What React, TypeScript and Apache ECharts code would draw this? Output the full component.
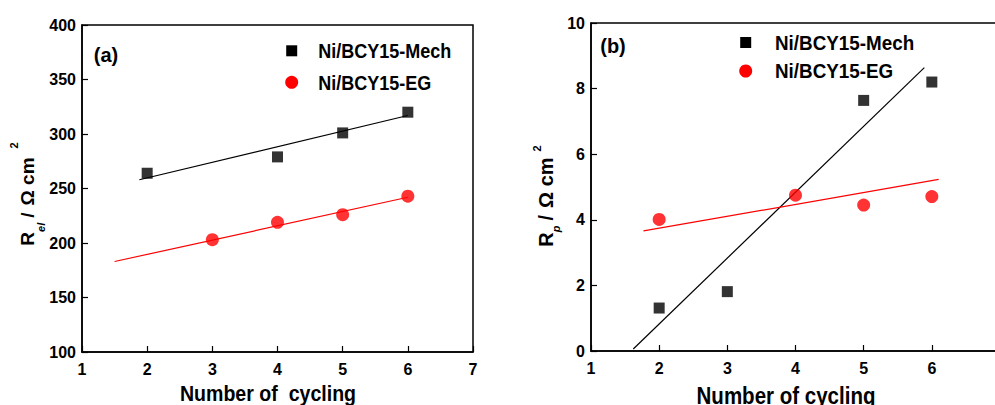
import React, { useEffect, useRef } from "react";
import * as echarts from "echarts";

// ---------- data ----------
const xTicksA = [1, 2, 3, 4, 5, 6, 7];
const xTicksB = [1, 2, 3, 4, 5, 6];

// Panel (a): R_el
const mechA_x = [2, 4, 5, 6];
const mechA_y = [264, 279, 301, 320];
const egA_x = [3, 4, 5, 6];
const egA_y = [203, 219, 226, 243];
const mechA_fit = [[1.88, 258], [6.0, 317]];
const egA_fit = [[1.5, 183], [6.0, 242]];

// Panel (b): R_p
const mechB_x = [2, 3, 5, 6];
const mechB_y = [1.31, 1.81, 7.64, 8.2];
const egB_x = [2, 4, 5, 6];
const egB_y = [4.01, 4.75, 4.45, 4.71];
const mechB_fit = [[1.62, 0.06], [5.89, 8.64]];
const egB_fit = [[1.77, 3.66], [6.1, 5.23]];

const seriesNames = ["Ni/BCY15-Mech", "Ni/BCY15-EG"];
const panelLabels = ["(a)", "(b)"];
const xTitles = ["Number of  cycling", "Number of cycling"];

const FONT = "'Liberation Sans', Arial, sans-serif";
const BLACK = "#000000";
const RED = "#ff0000";

const zip = (xs: number[], ys: number[]) => xs.map((x, i) => [x, ys[i]]);

function xAxisOf(gridIndex: number, shown: number[]) {
  return {
    type: "value",
    gridIndex,
    min: 1,
    max: 7,
    interval: 1,
    axisLine: { show: true, onZero: false, lineStyle: { color: "#000", width: 1.5 } },
    axisTick: { show: true, inside: true, length: 6, lineStyle: { color: "#000", width: 1.2 } },
    axisLabel: {
      color: "#000",
      fontFamily: FONT,
      fontWeight: "bold",
      fontSize: 16,
      margin: 9,
      formatter: (v: number) => (shown.includes(v) ? String(v) : ""),
    },
    splitLine: { show: false },
  };
}

function yAxisOf(gridIndex: number, min: number, max: number, interval: number) {
  return {
    type: "value",
    gridIndex,
    min,
    max,
    interval,
    axisLine: { show: true, onZero: false, lineStyle: { color: "#000", width: 1.5 } },
    axisTick: { show: true, inside: true, length: 6, lineStyle: { color: "#000", width: 1.2 } },
    axisLabel: {
      color: "#000",
      fontFamily: FONT,
      fontWeight: "bold",
      fontSize: 16,
      margin: 6,
    },
    splitLine: { show: false },
  };
}

function fitLine(data: number[][], idx: number, color: string) {
  return {
    type: "line",
    xAxisIndex: idx,
    yAxisIndex: idx,
    data,
    symbol: "none",
    silent: true,
    lineStyle: { color, width: 1.2 },
    z: 1,
  };
}

function scatter(name: string, xs: number[], ys: number[], idx: number, symbol: string, size: number, color: string) {
  return {
    type: "scatter",
    name,
    xAxisIndex: idx,
    yAxisIndex: idx,
    data: zip(xs, ys),
    symbol,
    symbolSize: size,
    itemStyle: { color },
    z: 3,
  };
}

function yTitle(
  x: number,
  y: number,
  sub: string,
  size: number,
  lineH: number,
  subH: number,
  supH: number,
  supPad: number
) {
  const base = { fontFamily: FONT, fontWeight: "bold", fill: "#000" };
  return {
    type: "text",
    x,
    y,
    rotation: Math.PI / 2,
    style: {
      text: `{r|R}{s|${sub}}{sl|/}{m|Ω cm}{p|2}`,
      align: "center",
      verticalAlign: "middle",
      fill: "#000",
      rich: {
        r: { ...base, fontSize: size, lineHeight: lineH, verticalAlign: "middle" },
        s: { ...base, fontStyle: "italic", fontSize: 11, lineHeight: subH, verticalAlign: "bottom" },
        sl: { ...base, fontSize: size, lineHeight: lineH, verticalAlign: "middle", padding: [0, 7, 0, 5] },
        m: { ...base, fontSize: size, lineHeight: lineH, verticalAlign: "middle" },
        p: { ...base, fontSize: 11, lineHeight: supH, verticalAlign: "top", padding: [0, 0, 0, supPad] },
      },
    },
  };
}

function label(text: string, x: number, y: number, size: number, scaleX: number, align: string) {
  return {
    type: "text",
    x,
    y,
    scaleX,
    style: {
      text,
      align,
      verticalAlign: "middle",
      fill: "#000",
      fontFamily: FONT,
      fontWeight: "bold",
      fontSize: size,
    },
  };
}

function legendGroup(ix: number, iy: number, gap: number, textX: number, scaleX: number) {
  return [
    { type: "rect", shape: { x: ix - 5.5, y: iy - 5.5, width: 11, height: 11 }, style: { fill: BLACK } },
    { type: "circle", shape: { cx: ix, cy: iy + gap, r: 6.5 }, style: { fill: RED } },
    label(seriesNames[0], textX, iy, 21, scaleX, "left"),
    label(seriesNames[1], textX, iy + gap, 21, scaleX, "left"),
  ];
}

export default function App() {
  const ref = useRef<HTMLDivElement>(null);

  useEffect(() => {
    if (!ref.current) return;
    const chart = echarts.init(ref.current, undefined, { renderer: "svg" });
    chart.setOption({
      animation: false,
      backgroundColor: "#ffffff",
      grid: [
        { left: 82, top: 25, width: 391, height: 327, show: true, borderColor: "#000", borderWidth: 1.5, backgroundColor: "transparent" },
        { left: 591, top: 23, width: 409, height: 328, show: true, borderColor: "#000", borderWidth: 1.5, backgroundColor: "transparent" },
      ],
      xAxis: [xAxisOf(0, xTicksA), xAxisOf(1, xTicksB)],
      yAxis: [yAxisOf(0, 100, 400, 50), yAxisOf(1, 0, 10, 2)],
      graphic: [
        label(panelLabels[0], 106, 55, 20, 1, "center"),
        label(panelLabels[1], 613, 46, 20, 1, "center"),
        label(xTitles[0], 268, 393, 22, 0.89, "center"),
        label(xTitles[1], 786, 396, 24, 0.855, "center"),
        yTitle(27, 194, "el", 19, 38, 22, 11, 9),
        yTitle(546, 196, "p", 20, 30, 15, 19, 6),
        ...legendGroup(291.7, 50.8, 31.5, 318.3, 0.858),
        ...legendGroup(745.7, 42.5, 28.5, 775, 0.897),
      ],
      series: [
        fitLine(mechA_fit, 0, BLACK),
        fitLine(egA_fit, 0, RED),
        scatter(seriesNames[0], mechA_x, mechA_y, 0, "rect", 11, BLACK),
        scatter(seriesNames[1], egA_x, egA_y, 0, "circle", 13, RED),
        fitLine(mechB_fit, 1, BLACK),
        fitLine(egB_fit, 1, RED),
        scatter(seriesNames[0], mechB_x, mechB_y, 1, "rect", 11, BLACK),
        scatter(seriesNames[1], egB_x, egB_y, 1, "circle", 13, RED),
      ],
    });
    return () => chart.dispose();
  }, []);

  return (
    <div style={{ position: "absolute", left: 0, top: 0, width: 995, height: 405, overflow: "hidden", background: "#fff" }}>
      <div ref={ref} style={{ width: 1010, height: 405 }} />
    </div>
  );
}
